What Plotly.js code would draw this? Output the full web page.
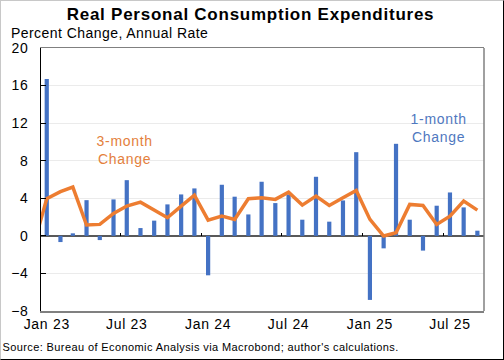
<!DOCTYPE html>
<html>
<head>
<meta charset="utf-8">
<script src="https://cdn.plot.ly/plotly-3.0.1.min.js"></script>
<style>
html,body{margin:0;padding:0;background:#fff;}
#wrap{position:relative;width:504px;height:360px;}
#chart{width:504px;height:360px;}
#frame{position:absolute;left:0;top:0;width:504px;height:360px;box-sizing:border-box;
  border-top:1px solid #c8c8c8;border-left:1px solid #c8c8c8;border-right:1px solid #000;border-bottom:1px solid #000;pointer-events:none;}
#chart text.gtitle{letter-spacing:0.75px;}
#chart .xtick text{letter-spacing:0.7px;}
#chart .ytick text{letter-spacing:0.5px;}
#chart g.annotation[data-index="0"] text{letter-spacing:0.45px;}
#chart g.annotation[data-index="1"] text{letter-spacing:0.4px;}
#chart g.annotation[data-index="2"] text{letter-spacing:0.7px;}
#chart g.annotation[data-index="3"] text{letter-spacing:0.7px;}
</style>
</head>
<body>
<div id="wrap"><div id="chart"></div><div id="frame"></div></div>
<script>
// Monthly dates for the 1-month bars
const barMonths = [
  '2023-01-01','2023-02-01','2023-03-01','2023-04-01','2023-05-01','2023-06-01',
  '2023-07-01','2023-08-01','2023-09-01','2023-10-01','2023-11-01','2023-12-01',
  '2024-01-01','2024-02-01','2024-03-01','2024-04-01','2024-05-01','2024-06-01',
  '2024-07-01','2024-08-01','2024-09-01','2024-10-01','2024-11-01','2024-12-01',
  '2025-01-01','2025-02-01','2025-03-01','2025-04-01','2025-05-01','2025-06-01',
  '2025-07-01','2025-08-01','2025-09-01'
];
// 1-month change, annual rate (%)
const oneMonth = [
  16.7, -0.66, 0.27, 3.8, -0.45, 3.88,
  5.93, 0.83, 1.62, 3.35, 4.41, 5.05,
  -4.2, 5.44, 4.17, 2.28, 5.76, 3.49,
  4.41, 1.72, 6.29, 1.51, 3.77, 8.91,
  -6.82, -1.33, 9.8, 1.72, -1.57, 3.21,
  4.62, 3.03, 0.55
];
// Monthly dates for the 3-month line (starts one month earlier, clipped at left)
const lineMonths = ['2022-12-01'].concat(barMonths);
// 3-month change, annual rate (%)
const threeMonth = [
  -1.2,
  3.95, 4.7, 5.19, 1.15, 1.22, 2.39,
  3.17, 3.59, 2.74, 1.93, 3.17, 4.34,
  1.68, 2.1, 1.75, 3.95, 4.06, 3.88,
  4.65, 3.27, 4.23, 3.24, 4.06, 4.84,
  1.75, -0.02, 0.34, 3.35, 3.24, 1.22,
  2.1, 3.7, 2.74
];
// Small tick marks on the zero line
const zeroTicks = ['2023-06-17','2023-12-16','2024-06-16','2024-12-15','2025-06-16'];

const FONT = 'Liberation Sans, Arial, sans-serif';
const xRange = ['2022-12-19','2025-09-16'];

const traces = [
  {type:'bar', x:barMonths, y:oneMonth, width:9.5*86400000,
   marker:{color:'#4472C4'}, hoverinfo:'x+y', name:'1-month Change'},
  {type:'scatter', mode:'lines', x:lineMonths, y:threeMonth,
   line:{color:'#ED7D31', width:3.5}, name:'3-month Change'},
  {type:'scatter', x:[], y:[], xaxis:'x2', hoverinfo:'skip', showlegend:false}
];

const layout = {
  width:504, height:360,
  margin:{l:41, r:20, t:48, b:49},
  paper_bgcolor:'#fff', plot_bgcolor:'#fff',
  showlegend:false,
  font:{family:FONT, color:'#000', size:14},
  title:{text:'<b>Real Personal Consumption Expenditures</b>', xref:'container', yref:'container',
         x:0.497, y:0.96, xanchor:'center', yanchor:'middle', font:{family:FONT, size:17, color:'#000'}},
  xaxis:{type:'date', range:xRange, tick0:'2023-01-01', dtick:'M6', tickformat:'%b %y',
         ticks:'', showgrid:false, zeroline:false, showline:true, linecolor:'#808080', linewidth:1.5, mirror:true,
         tickfont:{family:FONT, size:14, color:'#000'}},
  xaxis2:{type:'date', range:xRange, overlaying:'x', anchor:'free', position:8/28, side:'top',
          tickmode:'array', tickvals:zeroTicks, ticks:'outside', ticklen:3, tickwidth:1, tickcolor:'#000',
          showticklabels:false, showgrid:false, showline:false, zeroline:false},
  yaxis:{range:[-8,20], dtick:4, tick0:0, ticks:'inside', ticklen:5, tickwidth:1, tickcolor:'#000',
         showline:true, linecolor:'#000', linewidth:1, showgrid:true, gridcolor:'#ebebeb', gridwidth:1,
         zeroline:true, zerolinecolor:'#595959', zerolinewidth:1.5, ticklabelstandoff:9,
         tickfont:{family:FONT, size:14, color:'#000'}},
  shapes:[{type:'line', xref:'paper', yref:'paper', x0:1, x1:1, y0:0, y1:1,
           line:{color:'#808080', width:1.5}}],
  annotations:[
    {text:'Percent Change, Annual Rate', xref:'paper', yref:'paper', x:-0.0587, y:1.057,
     xanchor:'left', yanchor:'middle', showarrow:false, font:{family:FONT, size:14, color:'#000'}},
    {text:"Source: Bureau of Economic Analysis via Macrobond; author's calculations.", xref:'paper', yref:'paper',
     x:-0.0587, y:-0.1366, xanchor:'left', yanchor:'middle', showarrow:false, font:{family:FONT, size:11, color:'#000'}},
    {text:'3-month<br>Change', xref:'paper', yref:'paper', x:0.1885, y:0.613, xanchor:'center', yanchor:'middle',
     align:'center', showarrow:false, font:{family:FONT, size:14, color:'#E4803C'}},
    {text:'1-month<br>Change', xref:'paper', yref:'paper', x:0.8977, y:0.694, xanchor:'center', yanchor:'middle',
     align:'center', showarrow:false, font:{family:FONT, size:14, color:'#4F78C0'}}
  ]
};

Plotly.newPlot('chart', traces, layout, {displayModeBar:false, staticPlot:true});
</script>
</body>
</html>
